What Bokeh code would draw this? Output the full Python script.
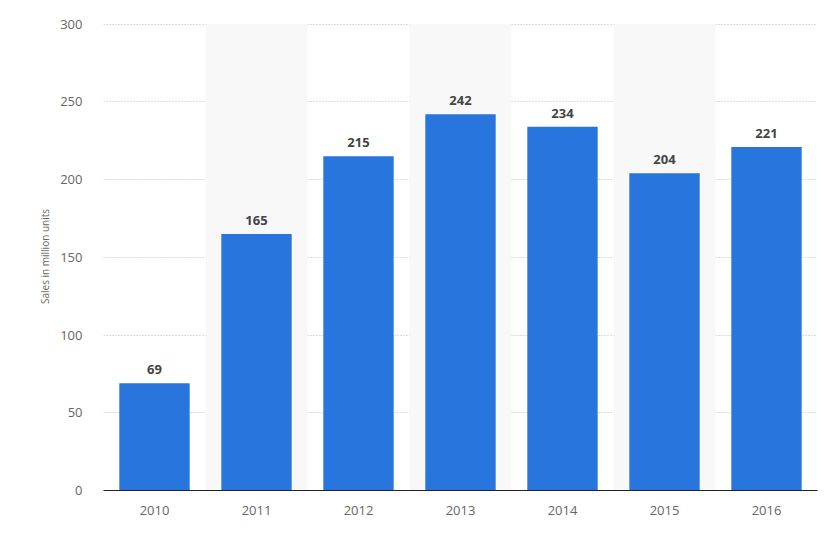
from bokeh.plotting import figure
from bokeh.models import ColumnDataSource, Range1d, FixedTicker
from bokeh.core.properties import value
from bokeh.embed import file_html
from bokeh.resources import INLINE

years = ["2010", "2011", "2012", "2013", "2014", "2015", "2016"]
sales = [69, 165, 215, 242, 234, 204, 221]
band_years = ["2011", "2013", "2015"]
y_ticks = [0, 50, 100, 150, 200, 250, 300]
y_max = 300

FONT = "Open Sans"

p = figure(x_range=years, y_range=Range1d(0, y_max + 1), width=831, height=527,
           output_backend="svg", toolbar_location=None,
           min_border_left=103, min_border_right=14, min_border_top=22, min_border_bottom=37)
p.outline_line_color = None
p.background_fill_color = "white"

# alternating bands
band_src = ColumnDataSource(dict(x=band_years, top=[y_max] * len(band_years)))
p.vbar(x="x", top="top", bottom=0, width=1.0, source=band_src,
       fill_color="#f8f8f8", line_color=None)

src = ColumnDataSource(dict(x=years, top=sales, label=[str(v) for v in sales]))
p.vbar(x="x", top="top", width=0.69, source=src, fill_color="#2876dd", line_color=None)

p.text(x="x", y="top", text="label", source=src, text_align="center",
       text_baseline="bottom", y_offset=-9, text_font=value(FONT),
       text_font_size="13px", text_font_style="bold", text_color="#444444")

p.xgrid.grid_line_color = None
p.ygrid.grid_line_color = "#bbbbbb"
p.ygrid.grid_line_dash = "1 2"
p.ygrid.grid_line_width = 1

p.yaxis.ticker = FixedTicker(ticks=y_ticks)
p.yaxis.axis_line_color = None
p.yaxis.major_tick_line_color = None
p.yaxis.minor_tick_line_color = None
p.yaxis.major_label_standoff = 15
p.yaxis.major_label_text_font = FONT
p.yaxis.major_label_text_font_size = "13px"
p.yaxis.major_label_text_color = "#666666"
p.yaxis.axis_label = "Sales in million units"
p.yaxis.axis_label_text_font = FONT
p.yaxis.axis_label_text_font_size = "10px"
p.yaxis.axis_label_text_font_style = "normal"
p.yaxis.axis_label_text_color = "#666666"
p.yaxis.axis_label_standoff = 5

p.xaxis.axis_line_color = "#222222"
p.xaxis.axis_line_width = 1
p.xaxis.major_tick_line_color = None
p.xaxis.minor_tick_line_color = None
p.xaxis.major_label_standoff = 9
p.xaxis.major_label_text_font = FONT
p.xaxis.major_label_text_font_size = "13px"
p.xaxis.major_label_text_color = "#666666"

open("out.html", "w").write(file_html(p, INLINE))
